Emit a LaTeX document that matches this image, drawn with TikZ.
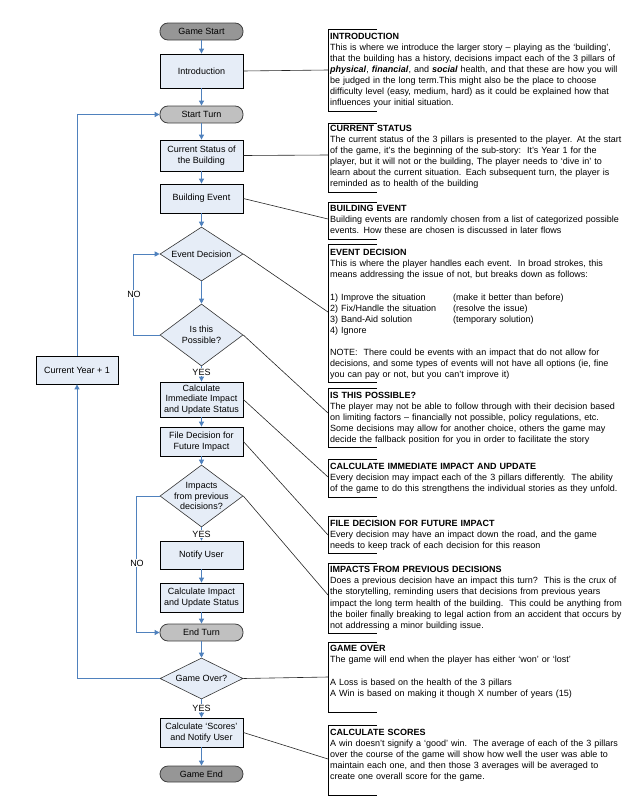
\documentclass[tikz,border=0pt]{standalone}
\usepackage{fontspec}
\setmainfont{Liberation Sans}
\usetikzlibrary{shapes.geometric,arrows.meta}
\definecolor{boxfill}{RGB}{230,237,247}
\definecolor{termdark}{RGB}{150,150,150}
\definecolor{termlight}{RGB}{192,192,192}
\definecolor{flowblue}{RGB}{79,129,189}
\newcommand\annofont{\fontsize{9}{11.1}\selectfont}
\newcommand\flowfont{\fontsize{9}{10.7}\selectfont}
\begin{document}
\begin{tikzpicture}[x=1pt,y=-1pt,
  proc/.style={draw=black, line width=0.8pt, fill=boxfill, minimum width=83pt, inner sep=0pt, align=center, font=\flowfont},
  term/.style={draw=black!75, line width=0.8pt, rounded corners=8pt, minimum width=83pt, inner sep=0pt, align=center, font=\flowfont},
  diam/.style={diamond, draw=black!80, line width=0.6pt, fill=boxfill, inner sep=0pt, minimum width=83pt, align=center, font=\flowfont},
  flow/.style={draw=flowblue, line width=0.9pt, -{Triangle[length=5pt,width=5pt]}},
  lbl/.style={fill=white, inner sep=1pt, font=\flowfont},
  bracket/.style={draw=black, line width=0.9pt},
  link/.style={draw=black!85, line width=0.6pt},
  anno/.style={anchor=base west, inner sep=0pt, text width=310pt, align=left, font=\annofont}]
\useasboundingbox (0,0) rectangle (643,811);

% ---------- flowchart nodes ----------
\node[term, fill=termdark, minimum height=17pt] (gstart) at (201.5,31.5) {Game Start};
\node[proc, minimum height=34pt] (intro) at (201.5,71) {Introduction};
\node[term, fill=termlight, minimum height=17pt] (sturn) at (201.5,114.5) {Start Turn};
\node[proc, minimum height=31pt] (cstatus) at (201.5,155.5) {Current Status of\\the Building};
\node[proc, minimum height=29pt] (bevent) at (201.5,198.5) {Building Event};
\node[diam, minimum height=54pt, aspect=1.54] (edec) at (201.5,254) {Event Decision};
\node[diam, minimum height=62pt, aspect=1.34] (poss) at (201.5,335) {Is this\\Possible?};
\node[proc, minimum height=35pt] (calcimm) at (201.5,399.5) {Calculate\\Immediate Impact\\and Update Status};
\node[proc, minimum height=29pt] (filedec) at (201.5,441.5) {File Decision for\\Future Impact};
\node[diam, minimum height=62pt, aspect=1.34, inner sep=-8pt] (impacts) at (201.5,496) {Impacts\\from previous\\decisions?};
\node[proc, minimum height=28pt] (notify) at (201.5,555) {Notify User};
\node[proc, minimum height=29pt] (calcimp) at (201.5,597.5) {Calculate Impact\\and Update Status};
\node[term, fill=termlight, minimum height=17pt] (eturn) at (201.5,632.5) {End Turn};
\node[diam, minimum height=41pt, aspect=2.02] (gover) at (201.5,678.5) {Game Over?};
\node[proc, minimum height=29pt] (scores) at (201.5,732.5) {Calculate `Scores'\\and Notify User};
\node[term, fill=termdark, minimum height=16pt] (gend) at (201.5,774) {Game End};
\node[proc, minimum width=82pt, minimum height=28pt] (year) at (77,370) {Current Year + 1};

% ---------- flow arrows ----------
\draw[flow] (gstart) -- (intro);
\draw[flow] (intro) -- (sturn);
\draw[flow] (sturn) -- (cstatus);
\draw[flow] (cstatus) -- (bevent);
\draw[flow] (bevent) -- (edec);
\draw[flow] (edec) -- (poss);
\draw[flow] (poss) -- (calcimm);
\draw[flow] (calcimm) -- (filedec);
\draw[flow] (filedec) -- (impacts);
\draw[flow] (impacts) -- (notify);
\draw[flow] (notify) -- (calcimp);
\draw[flow] (calcimp) -- (eturn);
\draw[flow] (eturn) -- (gover);
\draw[flow] (gover) -- (scores);
\draw[flow] (scores) -- (gend);
\draw[flow] (poss.west) -- ++(-26,0) |- (edec.west);
\draw[flow] (impacts.west) -- ++(-23,0) |- (eturn.west);
\draw[flow] (gover.west) -| (year.south);
\draw[flow] (year.north) |- (sturn.west);

\node[lbl] (yes1) at (201.5,372) {YES};
\node[lbl] (yes2) at (201.5,534) {YES};
\node[lbl] (yes3) at (201.5,708) {YES};
\node[lbl] (no1) at (134,294) {NO};
\node[lbl] (no2) at (137,563) {NO};

% ---------- annotation brackets ----------
\draw[bracket] (377,29) -- (328,29) -- (328,111) -- (377,111);
\draw[bracket] (377,123) -- (328,123) -- (328,192) -- (377,192);
\draw[bracket] (377,202) -- (328,202) -- (328,239) -- (377,239);
\draw[bracket] (377,244) -- (328,244) -- (328,382) -- (377,382);
\draw[bracket] (377,388) -- (328,388) -- (328,447) -- (377,447);
\draw[bracket] (377,459) -- (328,459) -- (328,497) -- (377,497);
\draw[bracket] (377,516) -- (328,516) -- (328,553) -- (377,553);
\draw[bracket] (377,563) -- (328,563) -- (328,633) -- (377,633);
\draw[bracket] (377,642) -- (328,642) -- (328,712) -- (377,712);
\draw[bracket] (377,725) -- (328,725) -- (328,795) -- (377,795);

\coordinate (bIntro) at (328,70);
\coordinate (bStatus) at (328,155);
\coordinate (bEvent) at (328,219);
\coordinate (bDec) at (328,312);
\coordinate (bPoss) at (328,413);
\coordinate (bImm) at (328,477);
\coordinate (bFile) at (328,535);
\coordinate (bPrev) at (328,595);
\coordinate (bOver) at (328,677);
\coordinate (bScore) at (328,759);
\draw[link] (intro.east) -- (bIntro);
\draw[link] (cstatus.east) -- (bStatus);
\draw[link] (bevent.east) -- (bEvent);
\draw[link] (edec.east) -- (bDec);
\draw[link] (poss.east) -- (bPoss);
\draw[link] (calcimm.east) -- (bImm);
\draw[link] (filedec.east) -- (bFile);
\draw[link] (impacts.east) -- (bPrev);
\draw[link] (gover.east) -- (bOver);
\draw[link] (scores.east) -- (bScore);

% ---------- annotation texts ----------
\node[anno] (tIntro) at (330,39.3) {\textbf{INTRODUCTION}\\
This is where we introduce the larger story -- playing as the `building',\\
that the building has a history, decisions impact each of the 3 pillars of\\
\textbf{\textit{physical}}, \textbf{\textit{financial}}, and \textbf{\textit{social}} health, and that these are how you will\\
be judged in the long term.This might also be the place to choose\\
difficulty level (easy, medium, hard) as it could be explained how that\\
influences your initial situation.};

\node[anno] (tStatus) at (330,131) {\textbf{CURRENT STATUS}\\
The current status of the 3 pillars is presented to the player. At the start\\
of the game, it's the beginning of the sub-story:\ \ It's Year 1 for the\\
player, but it will not or the building, The player needs to `dive in' to\\
learn about the current situation. Each subsequent turn, the player is\\
reminded as to health of the building};

\node[anno] (tEvent) at (330,211.7) {\textbf{BUILDING EVENT}\\
Building events are randomly chosen from a list of categorized possible\\
events. How these are chosen is discussed in later flows};

\node[anno] (tDec) at (330,255.7) {\textbf{EVENT DECISION}\\
This is where the player handles each event.\ \ In broad strokes, this\\
means addressing the issue of not, but breaks down as follows:\\[11.1pt]
\makebox[123pt][l]{1) Improve the situation}(make it better than before)\\
\makebox[123pt][l]{2) Fix/Handle the situation}(resolve the issue)\\
\makebox[123pt][l]{3) Band-Aid solution}(temporary solution)\\
4) Ignore\\[11.1pt]
NOTE:\ \ There could be events with an impact that do not allow for\\
decisions, and some types of events will not have all options (ie, fine\\
you can pay or not, but you can't improve it)};

\node[anno] (tPoss) at (330,398.3) {\textbf{IS THIS POSSIBLE?}\\
The player may not be able to follow through with their decision based\\
on limiting factors -- financially not possible, policy regulations, etc.\\
Some decisions may allow for another choice, others the game may\\
decide the fallback position for you in order to facilitate the story};

\node[anno] (tImm) at (330,469.3) {\textbf{CALCULATE IMMEDIATE IMPACT AND UPDATE}\\
Every decision may impact each of the 3 pillars differently.\ \ The ability\\
of the game to do this strengthens the individual stories as they unfold.};

\node[anno] (tFile) at (330,526) {\textbf{FILE DECISION FOR FUTURE IMPACT}\\
Every decision may have an impact down the road, and the game\\
needs to keep track of each decision for this reason};

\node[anno] (tPrev) at (330,572.7) {\textbf{IMPACTS FROM PREVIOUS DECISIONS}\\
Does a previous decision have an impact this turn?\ \ This is the crux of\\
the storytelling, reminding users that decisions from previous years\\
impact the long term health of the building.\ \ This could be anything from\\
the boiler finally breaking to legal action from an accident that occurs by\\
not addressing a minor building issue.};

\node[anno] (tOver) at (330,651.7) {\textbf{GAME OVER}\\
The game will end when the player has either `won' or `lost'\\[11.1pt]
A Loss is based on the health of the 3 pillars\\
A Win is based on making it though X number of years (15)};

\node[anno] (tScore) at (330,735) {\textbf{CALCULATE SCORES}\\
A win doesn't signify a `good' win.\ \ The average of each of the 3 pillars\\
over the course of the game will show how well the user was able to\\
maintain each one, and then those 3 averages will be averaged to\\
create one overall score for the game.};
\end{tikzpicture}
\end{document}
